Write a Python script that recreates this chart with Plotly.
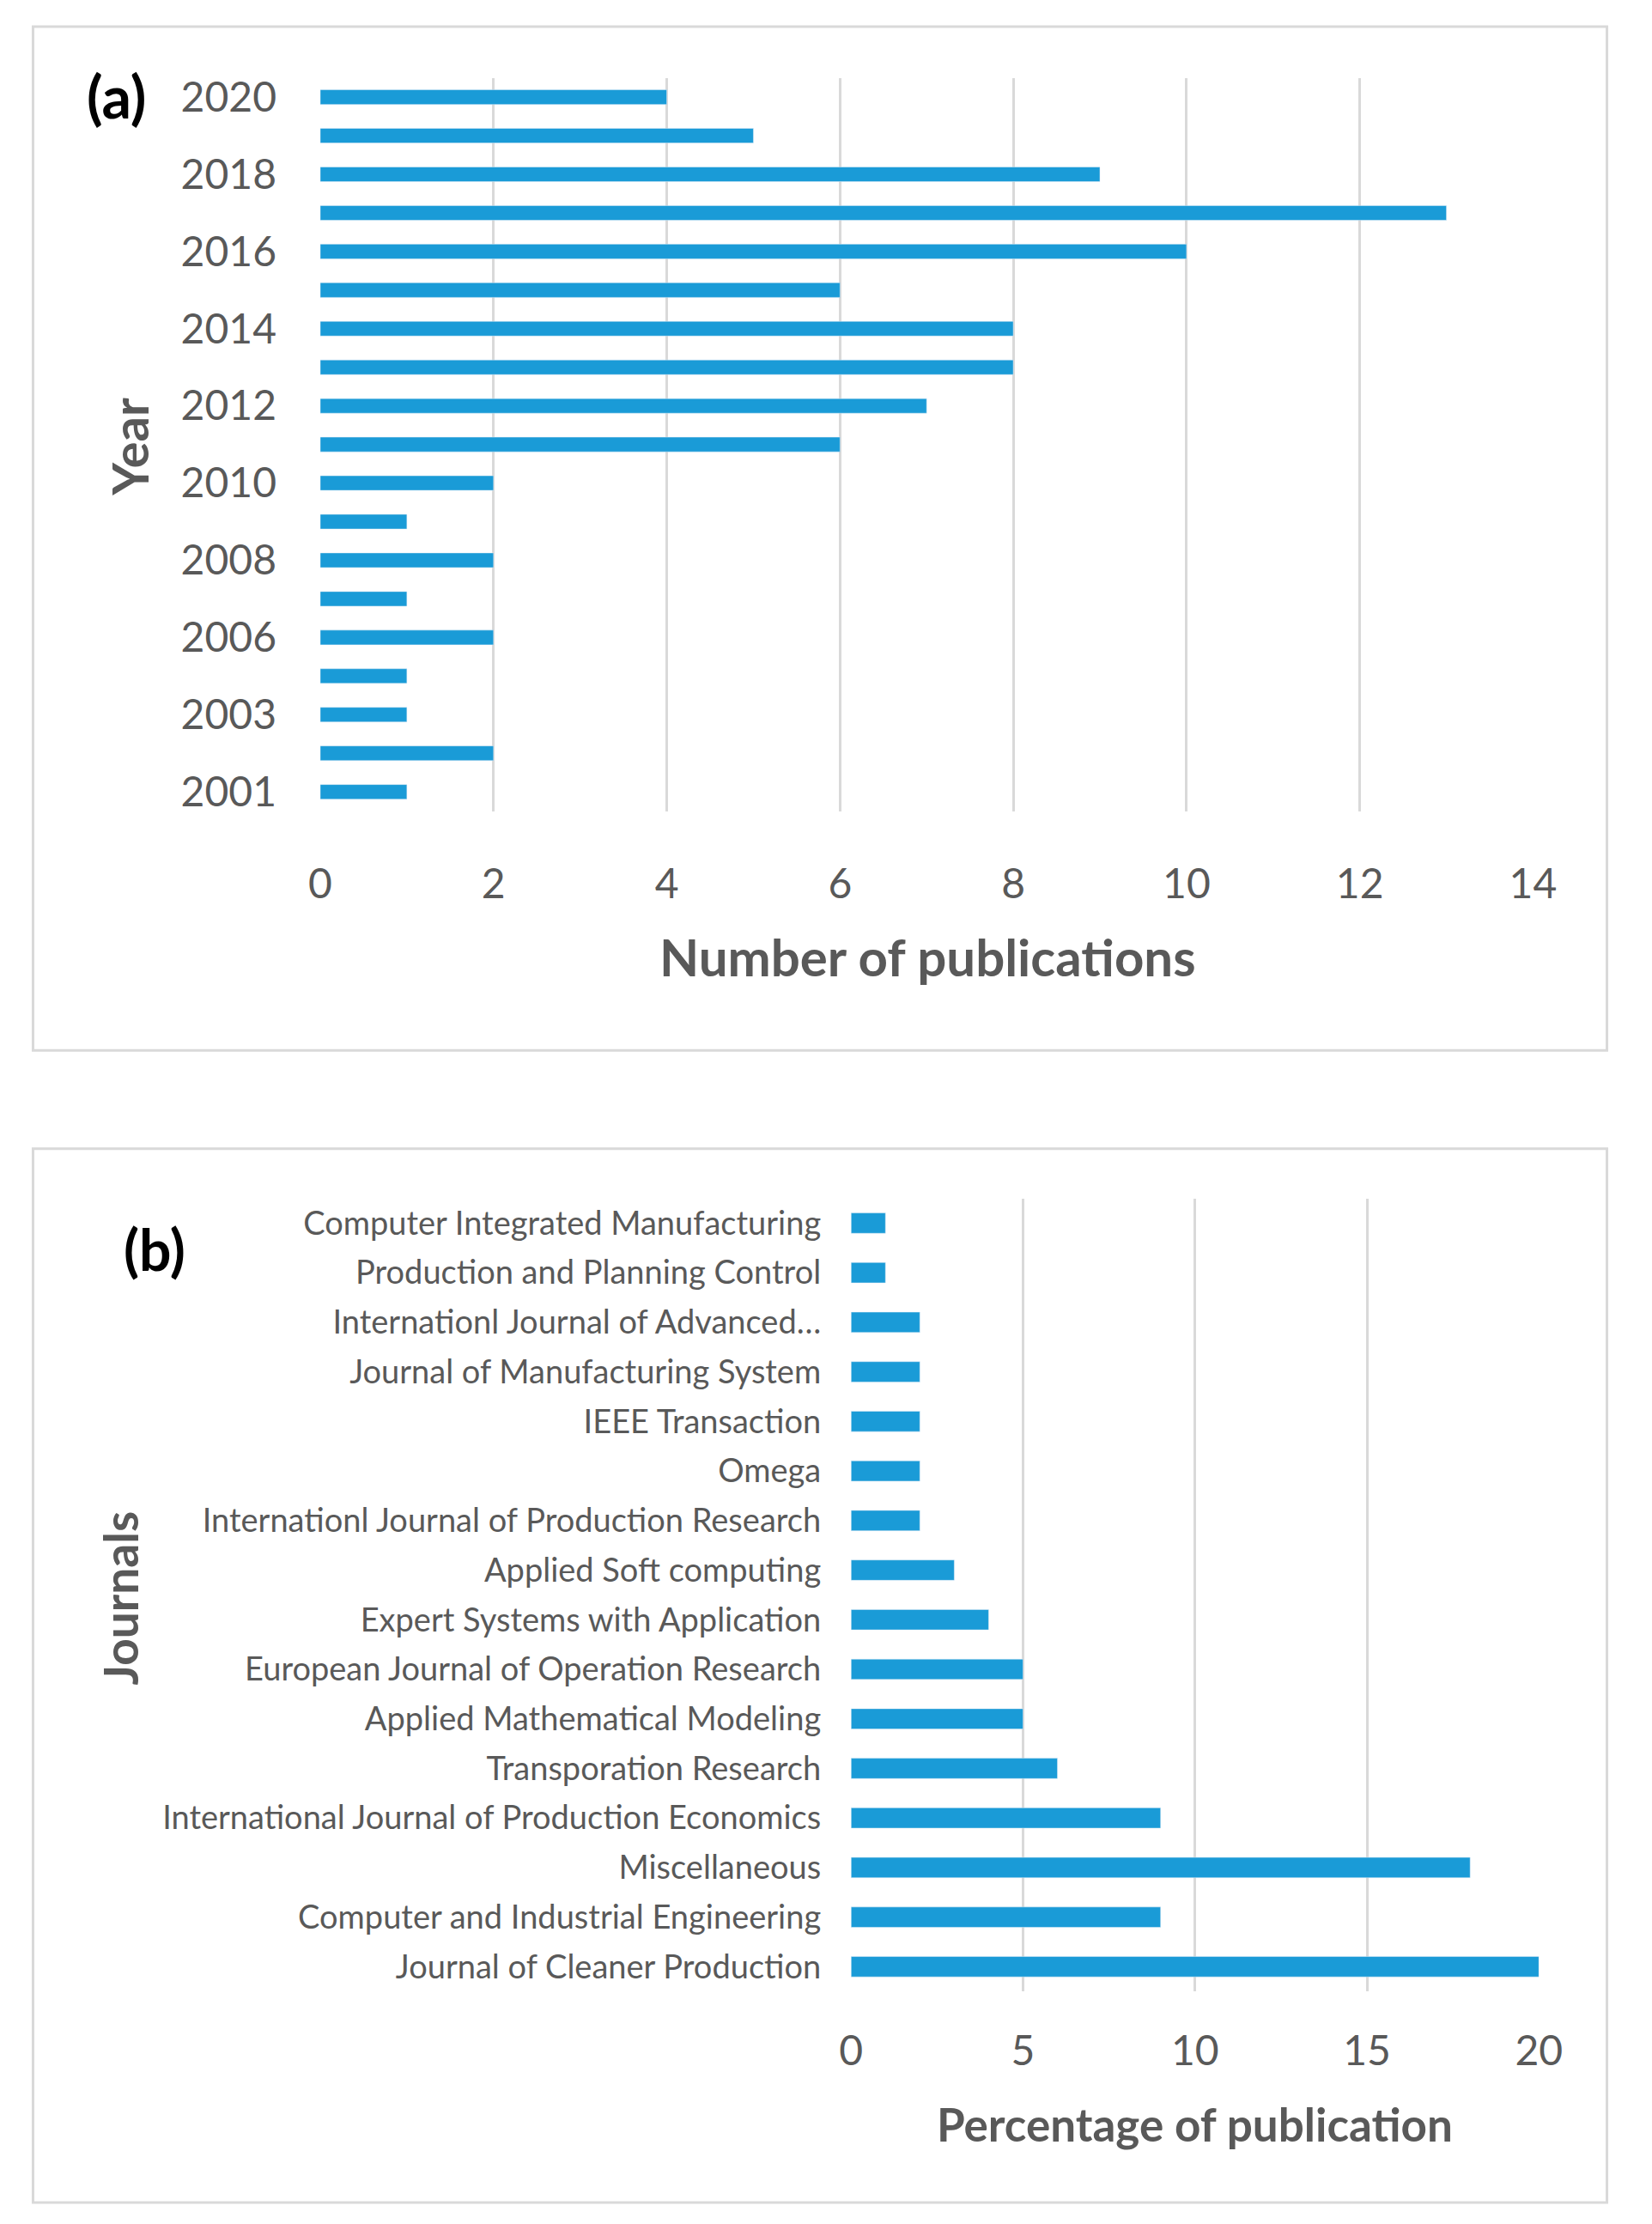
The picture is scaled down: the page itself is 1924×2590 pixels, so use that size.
import plotly.graph_objects as go

# ---- Data ----
years = ["2001", "2002", "2003", "2005", "2006", "2007", "2008", "2009", "2010",
         "2011", "2012", "2013", "2014", "2015", "2016", "2017", "2018", "2019", "2020"]
publications = [1, 2, 1, 1, 2, 1, 2, 1, 2, 6, 7, 8, 8, 6, 10, 13, 9, 5, 4]
year_tick_labels = ["2001", "2003", "2006", "2008", "2010", "2012", "2014", "2016", "2018", "2020"]

journals = [
    "Journal of Cleaner Production",
    "Computer and Industrial Engineering",
    "Miscellaneous",
    "International Journal of Production Economics",
    "Transporation Research",
    "Applied Mathematical Modeling",
    "European Journal of Operation Research",
    "Expert Systems with Application",
    "Applied Soft computing",
    "Internationl Journal of Production Research",
    "Omega",
    "IEEE Transaction",
    "Journal of Manufacturing System",
    "Internationl Journal of Advanced…",
    "Production and Planning Control",
    "Computer Integrated Manufacturing",
]
percentages = [20, 9, 18, 9, 6, 5, 5, 4, 3, 2, 2, 2, 2, 2, 1, 1]

x_ticks_a = [0, 2, 4, 6, 8, 10, 12, 14]
x_ticks_b = [0, 5, 10, 15, 20]

# ---- Style ----
W, H = 1924, 2590
BAR = "#1a9bd7"
GRID = "#d9d9d9"
TXT = "#595959"
FONT = "Lato"


def px_x(v):
    return v / W


def px_y(v):
    return 1 - v / H


fig = go.Figure()
fig.add_trace(go.Bar(x=publications, y=years, orientation="h", marker_color=BAR,
                     width=0.38, xaxis="x", yaxis="y", showlegend=False))
fig.add_trace(go.Bar(x=percentages, y=journals, orientation="h", marker_color=BAR,
                     width=0.41, xaxis="x2", yaxis="y2", showlegend=False))

common_x = dict(showgrid=True, gridcolor=GRID, gridwidth=3, zeroline=False,
                showline=False, ticks="", tickfont=dict(family=FONT, size=48, color=TXT),
                fixedrange=True)
common_y = dict(type="category", showgrid=False, zeroline=False, showline=False,
                ticks="", fixedrange=True)

fig.update_layout(
    width=W, height=H,
    margin=dict(l=0, r=0, t=0, b=0),
    paper_bgcolor="white", plot_bgcolor="white",
    bargap=0.6,
    xaxis=dict(domain=[px_x(367), px_x(1811)], range=[0, 14], tickvals=x_ticks_a,
               anchor="y", ticklabelstandoff=52, **common_x),
    yaxis=dict(domain=[px_y(941), px_y(83)], anchor="x",
               categoryorder="array", categoryarray=years,
               range=[-0.5, len(years) - 0.5],
               tickmode="array", tickvals=year_tick_labels, ticktext=year_tick_labels,
               tickfont=dict(family=FONT, size=48, color=TXT),
               ticklabelstandoff=50, **common_y),
    xaxis2=dict(domain=[px_x(999), px_x(1818)], range=[0, 20], tickvals=x_ticks_b,
                anchor="y2", ticklabelstandoff=37, **common_x),
    yaxis2=dict(domain=[px_y(2322), px_y(1394)], anchor="x2",
                categoryorder="array", categoryarray=journals,
                range=[-0.5, len(journals) - 0.5],
                tickfont=dict(family=FONT, size=38, color=TXT),
                ticklabelstandoff=34, **common_y),
)

# outer frames
for y0, y1 in [(23, 1221), (1336, 2569)]:
    fig.add_shape(type="rect", xref="paper", yref="paper",
                  x0=px_x(25), x1=px_x(1899), y0=px_y(y1), y1=px_y(y0),
                  line=dict(color=GRID, width=3), fillcolor="rgba(0,0,0,0)", layer="below")

annos = [
    ("Number of publications", 1090, 1111, 0, 60, TXT),
    ("Year", 140, 515, -90, 58, TXT),
    ("Percentage of publication", 1408, 2477, 0, 53, TXT),
    ("Journals", 129, 1862, -90, 55, TXT),
    ("(a)", 124, 104, 0, 68, "black"),
    ("(b)", 170, 1453, 0, 66, "black"),
]
for text, x, y, rot, size, col in annos:
    fig.add_annotation(text="<b>%s</b>" % text, xref="paper", yref="paper",
                       x=px_x(x), y=px_y(y), xanchor="center", yanchor="middle",
                       showarrow=False, textangle=rot,
                       font=dict(family=FONT, size=size, color=col))

fig.write_html("out.html",
               config={"displayModeBar": False},
               post_script="document.body.style.margin='0';document.body.style.overflow='hidden';")
